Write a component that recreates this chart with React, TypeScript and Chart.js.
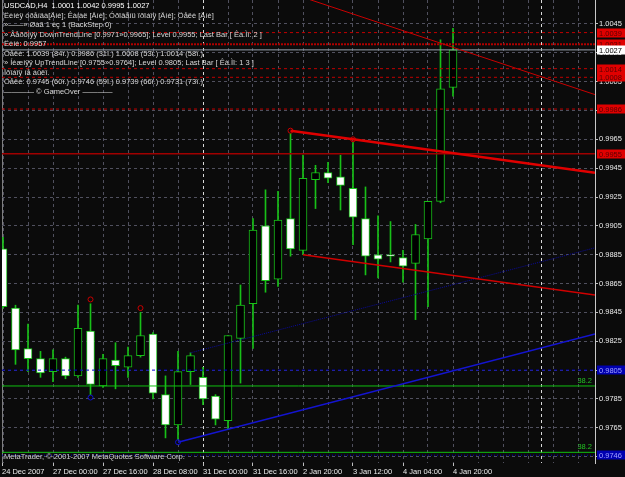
import React, { useEffect, useRef } from 'react';
import { Chart, registerables } from 'chart.js';

Chart.register(...registerables);

// ---- Candle data (USDCAD H4) ----
const OPEN = [0.9889, 0.9848, 0.9820, 0.9813, 0.9804, 0.9813, 0.9801, 0.9832, 0.9794, 0.9812, 0.9807, 0.9815, 0.9830, 0.9788, 0.9767, 0.9804, 0.9800, 0.9787, 0.9770, 0.9827, 0.9851, 0.9905, 0.9868, 0.9910, 0.9888, 0.9937, 0.9942, 0.9939, 0.9931, 0.9910, 0.9885, 0.9885, 0.9883, 0.9879, 0.9896, 0.9922, 1.0001];
const HIGH = [0.9897, 0.9850, 0.9837, 0.9818, 0.9819, 0.9814, 0.9850, 0.9851, 0.9816, 0.9824, 0.9821, 0.9845, 0.9831, 0.9801, 0.9818, 0.9817, 0.9807, 0.9788, 0.9829, 0.9864, 0.9910, 0.9930, 0.9929, 0.9969, 0.9954, 0.9947, 0.9949, 0.9954, 0.9963, 0.9932, 0.9912, 0.9908, 0.9888, 0.9906, 0.9922, 1.0034, 1.0042];
const LOW = [0.9848, 0.9809, 0.9804, 0.9800, 0.9797, 0.9799, 0.9800, 0.9788, 0.9793, 0.9792, 0.9800, 0.9814, 0.9785, 0.9758, 0.9757, 0.9795, 0.9781, 0.9767, 0.9764, 0.9796, 0.9820, 0.9859, 0.9863, 0.9884, 0.9885, 0.9917, 0.9935, 0.9916, 0.9892, 0.9871, 0.9869, 0.9880, 0.9866, 0.9840, 0.9849, 0.9921, 0.9995];
const CLOSE = [0.9849, 0.9819, 0.9813, 0.9803, 0.9813, 0.9801, 0.9834, 0.9795, 0.9813, 0.9808, 0.9815, 0.9829, 0.9789, 0.9767, 0.9804, 0.9815, 0.9785, 0.9771, 0.9829, 0.9850, 0.9902, 0.9867, 0.9909, 0.9889, 0.9938, 0.9942, 0.9938, 0.9933, 0.9911, 0.9884, 0.9882, 0.9884, 0.9877, 0.9899, 0.9922, 1.0000, 1.0027];

// ---- Axes ----
const X_MIN = -0.08;
const X_MAX = 47.36;
const Y_MIN = 0.97406;
const Y_MAX = 1.00616;
const Y_TICKS = [0.9745, 0.9765, 0.9785, 0.9805, 0.9825, 0.9845, 0.9865, 0.9885, 0.9905, 0.9925, 0.9945, 0.9965, 0.9985, 1.0005, 1.0025, 1.0045];
const X_LABEL_POS = [X_MIN, 4, 8, 12, 16, 20, 24, 28, 32, 36];
const X_LABEL_TEXT = ['24 Dec 2007', '27 Dec 00:00', '27 Dec 16:00', '28 Dec 08:00', '31 Dec 00:00', '31 Dec 16:00', '2 Jan 20:00', '3 Jan 12:00', '4 Jan 04:00', '4 Jan 20:00'];
const X_GRID = [0, 2, 4, 6, 8, 10, 12, 14, 16, 18, 20, 22, 24, 26, 28, 30, 32, 34, 36, 38, 40, 42, 43.04, 44, 46];
const SEPARATORS = [16, 43.04];

// ---- Objects ----
const RED_DASH_LEVELS = [1.0039, 1.0014, 1.0008, 0.9986];
const RED_DOT_LEVEL = 1.0031;
const RED_SOLID_LEVEL = 0.9955;
const BID_LEVEL = 1.0027;
const BLUE_DASH_LEVEL = 0.9805;
const BLUE_DOT_LEVEL = 0.9746;
const FIB_LEVELS = [0.9794, 0.9748];

const DOWN_TREND = [{ x: 23, y: 0.9971 }, { x: 28, y: 0.9965 }, { x: X_MAX, y: 0.99418 }];
const DOWN_CHANNEL = [{ x: 24, y: 0.9885 }, { x: X_MAX, y: 0.9857 }];
const TOP_RED = [{ x: 20, y: 1.0075 }, { x: X_MAX, y: 0.9996 }];
const UP_TREND = [{ x: 14, y: 0.9755 }, { x: 18, y: 0.9764 }, { x: X_MAX, y: 0.98301 }];
const UP_CHANNEL = [{ x: 15, y: 0.9817 }, { x: X_MAX, y: 0.98898 }];

const FRACTAL_UP = [{ x: 7, y: 0.9854 }, { x: 11, y: 0.9848 }, { x: 23, y: 0.9971 }, { x: 28, y: 0.9965 }];
const FRACTAL_DOWN = [{ x: 7, y: 0.9786 }, { x: 14, y: 0.9755 }];

const TAG_PRICES = [1.0039, 1.0031, 1.0014, 1.0008, 0.9986, 0.9955, 0.9805, 0.9746, 1.0027];
const TAG_BG = ['#e00000', '#e00000', '#e00000', '#e00000', '#e00000', '#e00000', '#0000b0', '#0000b0', '#ffffff'];
const TAG_FG = ['#5a0000', '#5a0000', '#5a0000', '#5a0000', '#5a0000', '#5a0000', '#a0a0ff', '#a0a0ff', '#000000'];

const HEADER_LINES = [
  'USDCAD,H4  1.0001 1.0042 0.9995 1.0027',
  'Ëèíèÿ òðåíäà[Äíè]; Êàíàë [Äíè]; Óðîâåíü ïðîáîÿ [Äíè]; Öåëè [Äíè]',
  '»——» Øàã 1 èç 1 (BackStep 0)',
  '» Âåðõíÿÿ DownTrendLine [0.9971»0.9965]; Level 0.9955; Last Bar [ Êà.Ìî: 2 ]',
  'Ëèíè: 0.9957',
  'Öåëè: 1.0039 (84ï.) 0.9986 (31ï.) 1.0008 (53ï.) 1.0014 (58ï.)',
  '» Íèæíÿÿ UpTrendLine [0.9755»0.9764]; Level 0.9805; Last Bar [ Êà.Ìî: 1 3 ]',
  'Ïðîáîÿ íå áûëî.',
  'Öåëè: 0.9745 (60ï.) 0.9746 (59ï.) 0.9739 (66ï.) 0.9731 (73ï.)',
  '———— © GameOver ————',
];
const FOOTER = 'MetaTrader, © 2001-2007 MetaQuotes Software Corp.';

const BG = '#0b0b0b';
const GREEN = '#18c018';
const GRID = '#50505e';
const FONT = '"Liberation Sans", Arial, sans-serif';

function hline(price: number) {
  return [{ x: X_MIN, y: price }, { x: X_MAX, y: price }];
}

function lineDs(data: any[], color: string, width: number, dash: number[] = []) {
  return {
    type: 'line' as const,
    data,
    borderColor: color,
    borderWidth: width,
    borderDash: dash,
    pointRadius: 0,
    fill: false,
    tension: 0,
    order: 0,
  };
}

const mtPlugin = {
  id: 'mt4',
  beforeDraw(chart: any) {
    const { ctx, width, height } = chart;
    ctx.save();
    ctx.fillStyle = BG;
    ctx.fillRect(0, 0, width, height);
    ctx.restore();
  },
  afterDraw(chart: any) {
    const { ctx, chartArea } = chart;
    const ys = chart.scales.y;
    ctx.save();
    ctx.font = `7.5px ${FONT}`;
    ctx.textBaseline = 'middle';

    // Fibo labels
    ctx.fillStyle = '#22c022';
    ctx.textAlign = 'right';
    FIB_LEVELS.forEach((p) => {
      ctx.fillText('38.2', chartArea.right - 3, ys.getPixelForValue(p) - 5);
    });

    // Price tags on the scale
    ctx.textAlign = 'left';
    TAG_PRICES.forEach((p, k) => {
      const py = Math.round(ys.getPixelForValue(p));
      ctx.fillStyle = TAG_BG[k];
      ctx.fillRect(chartArea.right + 2, py - 4.5, 28, 9);
      ctx.fillStyle = TAG_FG[k];
      ctx.fillText(p.toFixed(4), chartArea.right + 4, py + 0.5);
    });

    // Header text
    HEADER_LINES.forEach((t, k) => {
      ctx.fillStyle = k === 0 ? '#ffffff' : '#d8d8d8';
      ctx.fillText(t, 4, 6 + k * 9.5);
    });

    // Footer
    ctx.fillStyle = '#d0d0d0';
    ctx.fillText(FOOTER, 4, chartArea.bottom - 6);
    ctx.restore();
  },
};

export default function App() {
  const ref = useRef<HTMLCanvasElement | null>(null);

  useEffect(() => {
    const canvas = ref.current;
    if (!canvas) return;

    const wicks = OPEN.map((_, i) => ({ x: i, y: [LOW[i], HIGH[i]] }));
    const bodies = OPEN.map((o, i) => ({ x: i, y: [o, CLOSE[i]] }));
    const bodyColors = OPEN.map((o, i) => (CLOSE[i] > o ? '#000000' : '#ffffff'));

    const chart = new Chart(canvas, {
      type: 'bar',
      data: {
        datasets: [
          lineDs(TOP_RED, '#c80000', 1),
          lineDs(DOWN_TREND, '#e00000', 2.5),
          lineDs(DOWN_CHANNEL, '#d00000', 1.5),
          lineDs(UP_TREND, '#1414d0', 1.5),
          lineDs(UP_CHANNEL, '#0a0a9a', 1, [1, 1]),
          ...RED_DASH_LEVELS.map((p) => lineDs(hline(p), '#c00000', 1, [3, 3])),
          lineDs(hline(RED_DOT_LEVEL), '#b00000', 2, [2, 1]),
          lineDs(hline(RED_SOLID_LEVEL), '#a00000', 1.5),
          lineDs(hline(BID_LEVEL), '#9aa4b0', 1),
          lineDs(hline(BLUE_DASH_LEVEL), '#0000d0', 1, [3, 3]),
          lineDs(hline(BLUE_DOT_LEVEL), '#0000b0', 1, [1, 2]),
          ...FIB_LEVELS.map((p) => lineDs(hline(p), '#10c010', 1)),
          {
            type: 'line' as const,
            data: FRACTAL_UP,
            showLine: false,
            pointRadius: 2.5,
            pointBorderWidth: 1,
            pointBorderColor: '#c80000',
            pointBackgroundColor: 'rgba(0,0,0,0)',
            order: 0,
          },
          {
            type: 'line' as const,
            data: FRACTAL_DOWN,
            showLine: false,
            pointRadius: 2.5,
            pointBorderWidth: 1,
            pointBorderColor: '#1010d0',
            pointBackgroundColor: 'rgba(0,0,0,0)',
            order: 0,
          },
          {
            type: 'bar' as const,
            data: bodies as any,
            backgroundColor: bodyColors,
            borderColor: GREEN,
            borderWidth: 1,
            borderSkipped: false,
            barThickness: 8,
            grouped: false,
            order: 1,
          },
          {
            type: 'bar' as const,
            data: wicks as any,
            backgroundColor: GREEN,
            borderWidth: 0,
            barThickness: 1,
            grouped: false,
            order: 2,
          },
        ] as any,
      },
      options: {
        responsive: false,
        animation: false,
        devicePixelRatio: 1,
        events: [],
        layout: { autoPadding: false, padding: { left: 2, top: 0, right: 0, bottom: 0 } },
        plugins: { legend: { display: false }, tooltip: { enabled: false } },
        scales: {
          x: {
            type: 'linear',
            min: X_MIN,
            max: X_MAX,
            offset: false,
            afterBuildTicks: (axis: any) => {
              axis.ticks = [X_MIN, ...X_GRID].map((v) => ({ value: v }));
            },
            afterFit: (axis: any) => {
              axis.height = 14;
              axis.paddingLeft = 0;
              axis.paddingRight = 0;
            },
            grid: {
              offset: false,
              color: (c: any) => {
                const v = c.tick && c.tick.value;
                if (v === X_MIN) return '#808080';
                if (SEPARATORS.includes(v)) return '#d8d8d8';
                return GRID;
              },
              tickColor: (c: any) => (c.tick && X_LABEL_POS.includes(c.tick.value) ? '#c0c0c0' : 'rgba(0,0,0,0)'),
              tickLength: 3,
            },
            border: {
              display: false,
              dash: (c: any) => (c.tick && c.tick.value === X_MIN ? [] : [3, 3]),
            },
            ticks: {
              autoSkip: false,
              maxRotation: 0,
              minRotation: 0,
              align: 'start',
              padding: 1,
              color: '#ececec',
              font: { family: FONT, size: 7.5 },
              callback: (value: any) => {
                const k = X_LABEL_POS.indexOf(value);
                return k >= 0 ? X_LABEL_TEXT[k] : '';
              },
            },
          },
          y: {
            type: 'linear',
            position: 'right',
            min: Y_MIN,
            max: Y_MAX,
            afterBuildTicks: (axis: any) => {
              axis.ticks = Y_TICKS.map((v) => ({ value: v }));
            },
            afterFit: (axis: any) => {
              axis.width = 30;
              axis.paddingTop = 0;
              axis.paddingBottom = 0;
            },
            grid: {
              color: GRID,
              tickColor: '#c0c0c0',
              tickLength: 3,
            },
            border: { display: true, color: '#c8c8c8', width: 1, dash: [3, 3] },
            ticks: {
              padding: 1,
              color: '#ececec',
              font: { family: FONT, size: 7.5 },
              callback: (value: any) => Number(value).toFixed(4),
            },
          },
        },
      } as any,
      plugins: [mtPlugin],
    });

    return () => chart.destroy();
  }, []);

  return (
    <div style={{ position: 'fixed', left: 0, top: 0, width: 625, height: 477, background: BG }}>
      <canvas ref={ref} width={625} height={477} style={{ display: 'block', width: 625, height: 477 }} />
    </div>
  );
}
